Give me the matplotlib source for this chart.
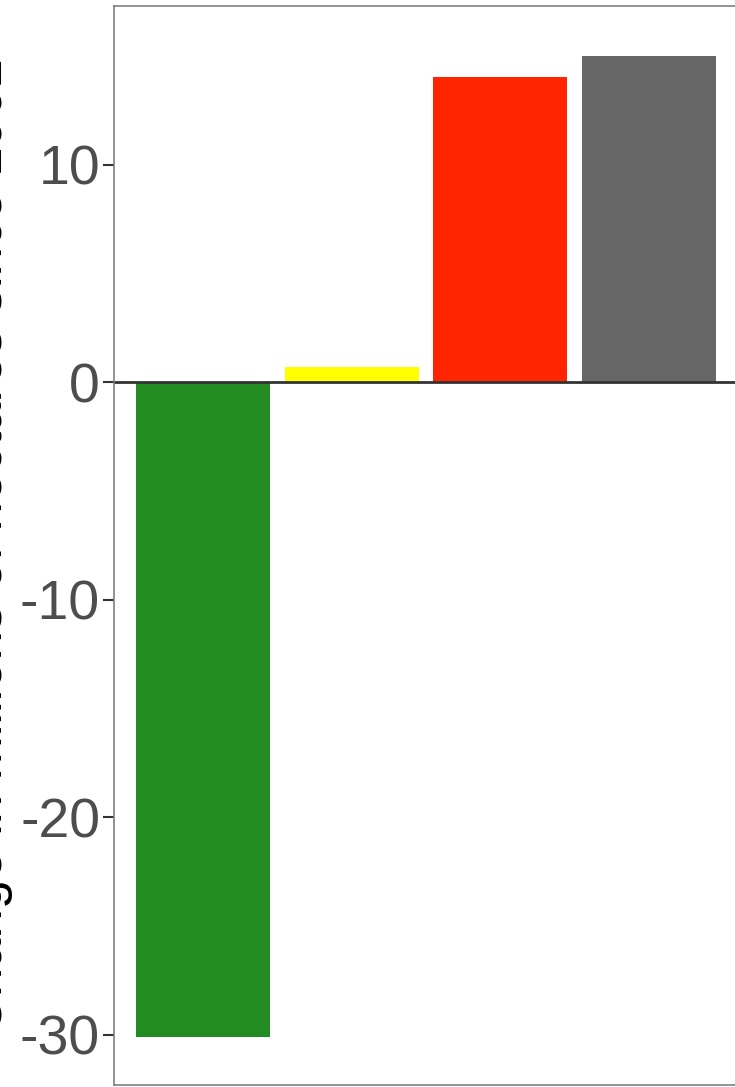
import numpy as np
import matplotlib.pyplot as plt

# valeurs
categories = ["Forest", "Other", "Agriculture", "Urban"]
values = [-30.1, 0.7, 14.05, 15.0]
colors = ["#228B22", "#FFFF00", "#FF2500", "#666666"]
yticks = [-30, -20, -10, 0, 10]
ylabel = "Change in millions of hectares since 1961"

plt.rcParams['font.family'] = ['Liberation Sans', 'DejaVu Sans']

fig = plt.figure(figsize=(7.35, 10.87), dpi=100)
ax = fig.add_axes([114 / 735, 2 / 1087, 624 / 735, 1079 / 1087])

x = np.arange(1, len(categories) + 1)
ax.bar(x, values, width=0.9, color=colors)
ax.axhline(0, color="#333333", linewidth=2)

ax.set_xlim(0.4, 4.6)
ax.set_ylim(-32.3, 17.3)
ax.set_xticks([])
ax.set_yticks(yticks)
ax.set_yticklabels([str(v) for v in yticks])
ax.tick_params(axis='y', labelsize=40, labelcolor="#4D4D4D", color="#333333",
               length=8, width=1.5, pad=2)

for s in ax.spines.values():
    s.set_color("#7F7F7F")
    s.set_linewidth(1.2)

# titre de l'axe, coupé par le bord gauche comme sur l'original
fig.text(2.5 / 735, 1 - 546 / 1087, ylabel, rotation=90, rotation_mode='anchor',
         ha='center', va='baseline', fontsize=38, color='black')

fig.savefig("out.png", dpi=100)
